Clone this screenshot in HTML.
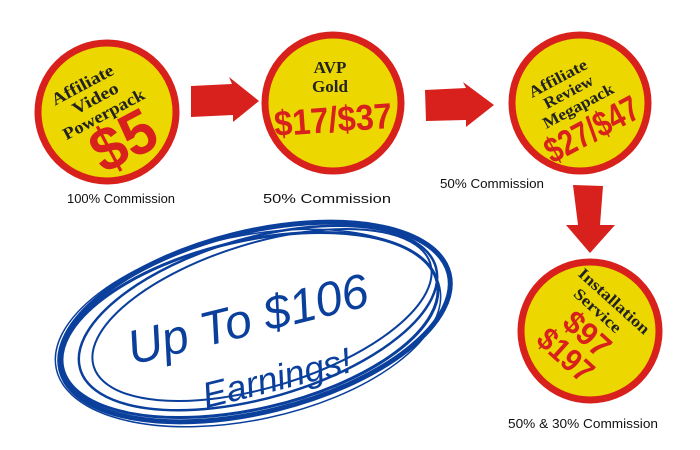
<!DOCTYPE html>
<html><head><meta charset="utf-8"><style>
html,body{margin:0;padding:0;background:#fff;}
svg{display:block;}
.lbl{font-family:"Liberation Sans",sans-serif;font-size:13px;fill:#111;}
.blk{font-family:"Liberation Serif",serif;font-weight:bold;fill:#222;}
.red{font-family:"Liberation Sans",sans-serif;font-weight:bold;fill:#d8201c;}
.hand{font-family:"Liberation Sans",sans-serif;fill:#0a3f9c;}
</style></head><body>
<svg width="700" height="450" viewBox="0 0 700 450" xmlns="http://www.w3.org/2000/svg">
<g fill="#ecd800" stroke="#d8201c" stroke-width="7">
<circle cx="107" cy="112" r="69"/>
<circle cx="333" cy="103" r="68"/>
<circle cx="580" cy="103" r="68"/>
<circle cx="590" cy="331" r="69"/>
</g>
<g fill="#d8201c">
<polygon points="191,86 232,84 229,77 259,101 233,122 233,115 191,117"/>
<polygon points="425,90 466,88 463,82 494,105 466,127 466,120 426,121"/>
<polygon points="573,185 603,186 600,225 615,225 590,253 566,225 578,225"/>
</g>
<!-- circle 1 -->
<g transform="rotate(-28 107 112)">
<text class="blk" font-size="17" x="98" y="82" text-anchor="middle" textLength="68" lengthAdjust="spacingAndGlyphs">Affiliate</text>
<text class="blk" font-size="17" x="103" y="100" text-anchor="middle" textLength="50" lengthAdjust="spacingAndGlyphs">Video</text>
<text class="blk" font-size="17" x="103" y="118" text-anchor="middle" textLength="90" lengthAdjust="spacingAndGlyphs">Powerpack</text>
<text class="red" font-size="62" x="108" y="166" text-anchor="middle" textLength="66" lengthAdjust="spacingAndGlyphs">$5</text>
</g>
<!-- circle 2 -->
<text class="blk" font-size="17" x="330" y="73" text-anchor="middle">AVP</text>
<text class="blk" font-size="17" x="330" y="92" text-anchor="middle">Gold</text>
<text class="red" font-size="36" x="333" y="132" text-anchor="middle" textLength="118" lengthAdjust="spacingAndGlyphs" transform="rotate(-4 333 120)">$17/$37</text>
<!-- circle 3 -->
<g transform="rotate(-28 580 103)">
<text class="blk" font-size="16" x="572" y="76" text-anchor="middle" textLength="64" lengthAdjust="spacingAndGlyphs">Affiliate</text>
<text class="blk" font-size="16" x="575" y="93" text-anchor="middle" textLength="54" lengthAdjust="spacingAndGlyphs">Review</text>
<text class="blk" font-size="16" x="577" y="110" text-anchor="middle" textLength="78" lengthAdjust="spacingAndGlyphs">Megapack</text>
<text class="red" font-size="36" x="578" y="144" text-anchor="middle" textLength="102" lengthAdjust="spacingAndGlyphs">$27/$47</text>
</g>
<!-- circle 4 -->
<g transform="rotate(42 590 331)">
<text class="blk" font-size="16" x="588" y="298" text-anchor="middle" textLength="90" lengthAdjust="spacingAndGlyphs">Installation</text>
<text class="blk" font-size="16" x="582" y="316" text-anchor="middle" textLength="58" lengthAdjust="spacingAndGlyphs">Service</text>
<text class="red" font-size="32" x="590" y="346" text-anchor="middle" textLength="52" lengthAdjust="spacingAndGlyphs">$97</text>
<text class="red" font-size="32" x="588" y="376" text-anchor="middle" textLength="64" lengthAdjust="spacingAndGlyphs">$197</text>
</g>
<text class="lbl" x="67" y="203" textLength="108" lengthAdjust="spacingAndGlyphs">100% Commission</text>
<text class="lbl" x="263" y="203" textLength="128" lengthAdjust="spacingAndGlyphs">50% Commission</text>
<text class="lbl" x="440" y="188" textLength="104" lengthAdjust="spacingAndGlyphs">50% Commission</text>
<text class="lbl" x="508" y="428" textLength="150" lengthAdjust="spacingAndGlyphs">50% &amp; 30% Commission</text>
<g fill="none" stroke="#0a3f9c">
<ellipse cx="255" cy="322" rx="200" ry="90" transform="rotate(-14 255 322)" stroke-width="5"/>
<ellipse cx="250" cy="325" rx="192" ry="84" transform="rotate(-13 250 325)" stroke-width="3"/>
<ellipse cx="258" cy="318" rx="185" ry="80" transform="rotate(-16 258 318)" stroke-width="2.5"/>
<ellipse cx="262" cy="315" rx="176" ry="72" transform="rotate(-17 262 315)" stroke-width="2"/>
<ellipse cx="248" cy="328" rx="196" ry="92" transform="rotate(-12 248 328)" stroke-width="1.5"/>
</g>
<g transform="rotate(-14 250 320)">
<text class="hand" font-size="48" x="248" y="335" text-anchor="middle" font-style="italic">Up To $106</text>
<text class="hand" font-size="36" x="262" y="395" text-anchor="middle" font-style="italic">Earnings!</text>
</g>
</svg>
</body></html>
